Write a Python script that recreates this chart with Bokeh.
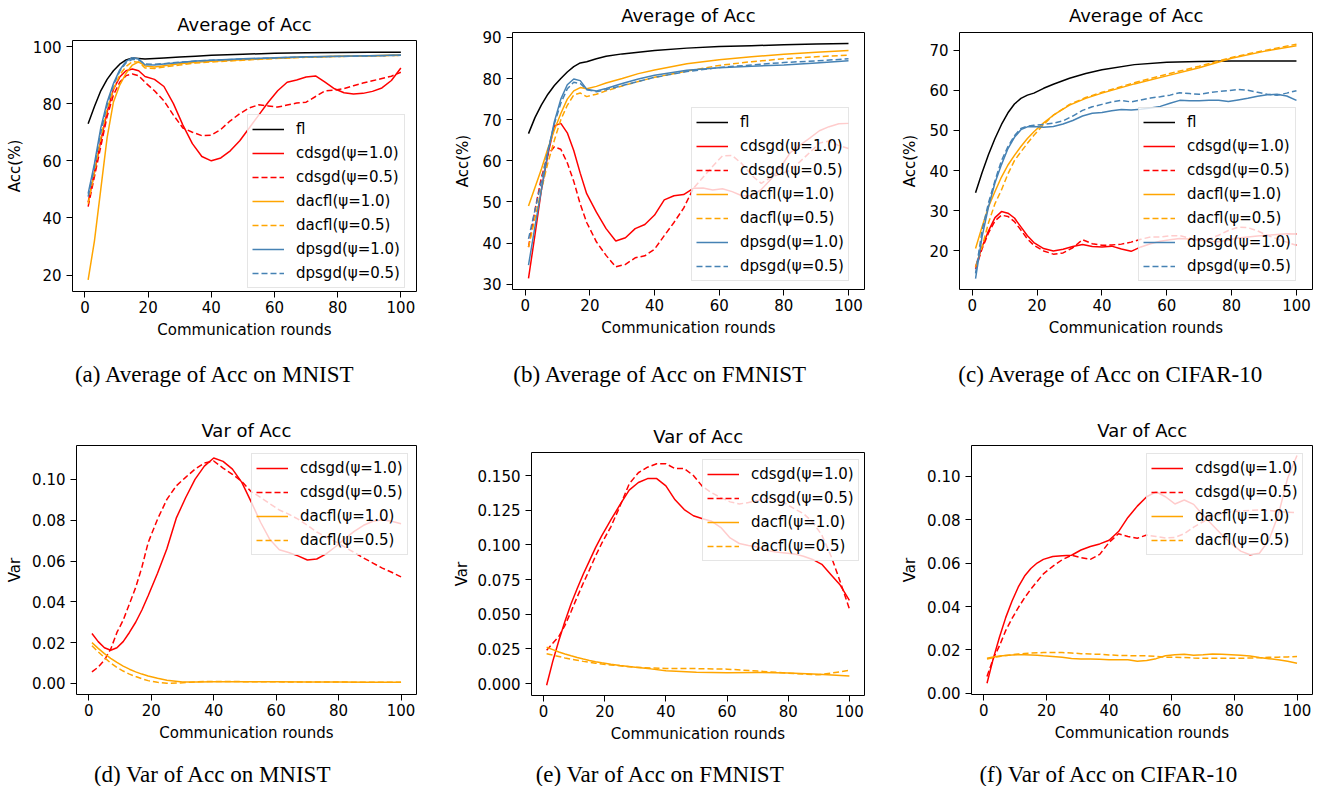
from bokeh.plotting import figure
from bokeh.layouts import row, column
from bokeh.models import FixedTicker, PrintfTickFormatter, Range1d
from bokeh.embed import file_html
from bokeh.resources import INLINE
from bokeh.core.properties import value

# ---------------- data ----------------
X_FINE = [1, 3, 5, 7, 9, 11, 13, 15, 17, 19, 22, 25, 28, 31, 34, 37, 40, 43, 46, 49,
          52, 55, 58, 61, 64, 67, 70, 73, 76, 79, 82, 85, 88, 91, 94, 97, 100]
X_COARSE = [1, 3, 5, 7, 9, 11, 13, 15, 17, 19, 22, 25, 30, 35, 40, 50, 60, 70, 80, 90, 100]
X_TICKS = [0, 20, 40, 60, 80, 100]

# (a) MNIST average accuracy
A_FL = [73, 79, 84.5, 88.5, 91.5, 93.8, 95.3, 96.0, 95.8, 95.6, 95.8, 96.0, 96.3, 96.6, 96.9,
        97.3, 97.6, 97.8, 97.9, 98.0, 98.0]
A_CDSGD_10 = [45.5, 56, 67, 77, 85, 89.3, 91.5, 92.1, 91.5, 89.5, 88.5, 86, 80, 72.5, 66, 61.5,
              60, 61, 63.5, 67, 71.5, 76, 80.5, 84.5, 87.5, 88.3, 89.3, 89.7, 87.5, 85.2, 83.8,
              83.4, 83.6, 84.3, 85.5, 88.1, 92.5]
A_CDSGD_05 = [44, 54.5, 65, 75.5, 83, 87.5, 89.8, 90.4, 89.8, 87.5, 84.5, 81, 76, 71.5, 70, 68.8,
              69, 71, 74, 76.5, 78.5, 79.6, 79.2, 78.8, 79.5, 80.2, 80.5, 82.5, 84.5, 84.7, 85.3,
              86.3, 87.2, 88, 88.8, 89.6, 91]
A_DACFL_10 = [18.3, 32, 50, 68, 80.5, 86.5, 90.6, 93.5, 94.6, 93.2, 92.8, 93.3, 94.0, 94.5, 94.8,
              95.4, 95.9, 96.3, 96.6, 96.8, 97.0]
A_DACFL_05 = [45, 56, 68, 78, 85, 90, 93, 94.7, 94.5, 92.5, 92.3, 92.8, 93.5, 94.2, 94.6, 95.2,
              95.8, 96.2, 96.5, 96.7, 96.9]
A_DPSGD_10 = [48.5, 59, 71.5, 80.5, 87, 91.8, 94.8, 96.1, 95.6, 93.6, 93.5, 93.9, 94.4, 94.9,
              95.2, 95.7, 96.1, 96.4, 96.6, 96.8, 97.0]
A_DPSGD_05 = [47.5, 58, 70, 79.5, 86.5, 91.3, 94.3, 95.5, 95.3, 93.9, 93.8, 94.0, 94.5, 94.9,
              95.2, 95.6, 96.0, 96.3, 96.5, 96.7, 96.9]

# (b) FMNIST average accuracy
B_FL = [66.6, 70.5, 73.6, 76.2, 78.3, 80.0, 81.6, 82.9, 83.8, 84.1, 84.8, 85.4, 86.0, 86.4, 86.8,
        87.4, 87.8, 88.0, 88.2, 88.4, 88.5]
B_CDSGD_10 = [31.4, 42, 53, 61.5, 68.5, 69.1, 66.8, 62.5, 57, 52, 47.5, 43.5, 40.5, 41.3, 43.5,
              44.5, 46.8, 50.5, 51.5, 51.8, 53.3, 53.4, 52.9, 53.2, 52.5, 51.5, 51.5, 53, 55.5,
              58.5, 62, 63.8, 65.5, 67.3, 68.3, 69, 69.1]
B_CDSGD_05 = [39, 48, 56, 61.5, 63.4, 62.8, 59.5, 55, 49.5, 45, 40.3, 37, 34.2, 34.8, 36.4, 36.9,
              38.5, 41.8, 45, 48.5, 53.3, 56, 58.7, 61.2, 61.3, 59.3, 56.5, 54.5, 56, 56.8, 57.7,
              59.8, 62, 64.3, 64.8, 63.7, 63]
B_DACFL_10 = [49, 53.5, 58, 63, 67.5, 71.5, 75, 77, 77.8, 77.5, 78.1, 78.9, 80.0, 81.2, 82.1,
              83.6, 84.6, 85.3, 85.9, 86.4, 86.8]
B_DACFL_05 = [39, 46, 53, 59.5, 65, 70, 73.5, 76, 76.5, 75.6, 76.2, 77.0, 78.2, 79.3, 80.3, 81.8,
              83.2, 84.1, 84.8, 85.3, 85.7]
B_DPSGD_10 = [34.6, 44, 53, 62, 69.5, 75, 78.5, 79.9, 79.5, 77.4, 77.0, 77.6, 78.8, 79.9, 80.8,
              82.0, 82.6, 83.0, 83.3, 83.8, 84.3]
B_DPSGD_05 = [41, 48, 55, 62.5, 69, 74, 77.5, 79.1, 78.8, 77.3, 76.8, 77.3, 78.3, 79.3, 80.3,
              81.7, 82.7, 83.3, 83.9, 84.3, 84.8]

# (c) CIFAR-10 average accuracy
C_FL = [34.5, 39.5, 44, 48, 51.5, 54.4, 56.6, 58, 58.8, 59.3, 60.5, 61.5, 63.0, 64.2, 65.1, 66.4,
        67.0, 67.2, 67.3, 67.3, 67.3]
C_CDSGD_10 = [16.0, 21.0, 25.0, 28.3, 29.8, 29.4, 28.2, 26.0, 23.8, 22.1, 20.6, 20.0, 20.4, 21.1,
              21.6, 21.1, 21.0, 21.2, 20.5, 19.9, 21.0, 21.8, 22.4, 22.8, 23.1, 23.0, 22.7, 22.4,
              22.3, 22.7, 23.2, 23.5, 23.7, 23.9, 24.1, 24.3, 24.2]
C_CDSGD_05 = [15.5, 20.5, 24.5, 27.5, 28.9, 28.6, 27.3, 25.2, 23.0, 21.4, 20.0, 19.2, 19.5, 20.8,
              22.8, 21.8, 21.4, 21.5, 21.7, 22.2, 22.9, 23.5, 23.5, 23.8, 23.8, 23.2, 22.6, 23.0,
              23.9, 25.1, 25.9, 25.8, 25.0, 23.9, 23.0, 22.2, 21.4]
C_DACFL_10 = [20.6, 26.0, 31.0, 34.8, 38.4, 41.4, 43.8, 46, 48, 49.7, 51.9, 53.8, 56.3, 58.0,
              59.3, 61.6, 63.6, 65.6, 68.0, 69.7, 71.1]
C_DACFL_05 = [16, 21, 27, 31.8, 35.2, 39.2, 42.5, 44.7, 46.8, 48.8, 51.5, 53.8, 56.5, 58.2, 59.5,
              61.9, 64.0, 66.0, 68.2, 69.9, 71.5]
C_DPSGD_10 = [13.1, 23.5, 31, 37, 41.5, 45.5, 48.3, 50.2, 50.9, 51.0, 50.8, 51.0, 51.6, 52.5,
              53.6, 54.3, 54.5, 54.9, 55.2, 55.1, 55.3, 55.6, 56.0, 56.8, 57.5, 57.4, 57.4, 57.5,
              57.5, 57.2, 57.6, 58.0, 58.5, 58.9, 59.0, 58.6, 57.5]
C_DPSGD_05 = [14.4, 25, 32, 37.5, 42.5, 46, 48.7, 50.5, 51.1, 51.3, 51.5, 51.8, 52.4, 53.6, 55.0,
              55.9, 56.5, 57.1, 57.5, 57.1, 57.6, 58.1, 58.4, 58.8, 59.4, 59.2, 59.0, 59.4, 59.7,
              59.9, 60.2, 60.0, 59.5, 59.0, 58.8, 59.3, 59.9]

# (d) MNIST variance
D_CDSGD_10 = [0.0245, 0.0205, 0.0175, 0.0163, 0.0175, 0.0205, 0.0250, 0.0300, 0.0360, 0.0430,
              0.0540, 0.0660, 0.0810, 0.0910, 0.1000, 0.1065, 0.1105, 0.1088, 0.1050, 0.0985,
              0.0890, 0.0790, 0.0705, 0.0655, 0.0642, 0.0625, 0.0605, 0.0610, 0.0635, 0.0670,
              0.0710, 0.0745, 0.0775, 0.0795, 0.0802, 0.0795, 0.0783]
D_CDSGD_05 = [0.0057, 0.0080, 0.0115, 0.0168, 0.0250, 0.0310, 0.0390, 0.0470, 0.0570, 0.0690,
              0.0805, 0.0902, 0.0968, 0.1010, 0.1050, 0.1080, 0.1090, 0.1055, 0.1025, 0.0990,
              0.0940, 0.0912, 0.0880, 0.0850, 0.0830, 0.0805, 0.0775, 0.0742, 0.0718, 0.0695,
              0.0668, 0.0642, 0.0615, 0.0590, 0.0565, 0.0545, 0.0522]
D_DACFL_10 = [0.0200, 0.0172, 0.0146, 0.0123, 0.0103, 0.0085, 0.0070, 0.0057, 0.0046, 0.0037,
              0.0026, 0.0016, 0.0007, 0.0007, 0.0009, 0.0008, 0.0008, 0.0007, 0.0007, 0.0006,
              0.0006]
D_DACFL_05 = [0.0185, 0.0155, 0.0127, 0.0100, 0.0079, 0.0061, 0.0046, 0.0034, 0.0023, 0.0014,
              0.0006, 0.0001, 0.0003, 0.0009, 0.0010, 0.0009, 0.0008, 0.0007, 0.0007, 0.0006,
              0.0006]

# (e) FMNIST variance
E_CDSGD_10 = [-0.0012, 0.0160, 0.0310, 0.0450, 0.0575, 0.0685, 0.0790, 0.0885, 0.0980, 0.1065,
              0.1180, 0.1290, 0.1395, 0.1450, 0.1478, 0.1478, 0.1425, 0.1325, 0.1255, 0.1210,
              0.1188, 0.1170, 0.1125, 0.1050, 0.1010, 0.0995, 0.0985, 0.0960, 0.0948, 0.0942,
              0.0935, 0.0918, 0.0895, 0.0860, 0.0785, 0.0710, 0.0600]
E_CDSGD_05 = [0.0240, 0.0290, 0.0340, 0.0420, 0.0520, 0.0625, 0.0725, 0.0820, 0.0920, 0.1010,
              0.1130, 0.1280, 0.1440, 0.1520, 0.1560, 0.1585, 0.1585, 0.1550, 0.1550, 0.1500,
              0.1420, 0.1375, 0.1340, 0.1310, 0.1295, 0.1305, 0.1320, 0.1335, 0.1330, 0.1300,
              0.1260, 0.1225, 0.1165, 0.1070, 0.0920, 0.0735, 0.0540]
E_DACFL_10 = [0.0262, 0.0245, 0.0228, 0.0213, 0.0200, 0.0188, 0.0177, 0.0167, 0.0158, 0.0150,
              0.0140, 0.0131, 0.0118, 0.0106, 0.0092, 0.0082, 0.0078, 0.0080, 0.0077, 0.0068,
              0.0055]
E_DACFL_05 = [0.0215, 0.0205, 0.0195, 0.0185, 0.0176, 0.0168, 0.0160, 0.0153, 0.0147, 0.0141,
              0.0134, 0.0128, 0.0118, 0.0112, 0.0109, 0.0108, 0.0104, 0.0090, 0.0075, 0.0063,
              0.0095]

# (f) CIFAR-10 variance
F_CDSGD_10 = [0.0047, 0.0160, 0.0260, 0.0350, 0.0425, 0.0490, 0.0540, 0.0575, 0.0600, 0.0617,
              0.0630, 0.0634, 0.0636, 0.0660, 0.0676, 0.0688, 0.0705, 0.0745, 0.0810, 0.0862,
              0.0905, 0.0928, 0.0905, 0.0872, 0.0890, 0.0870, 0.0820, 0.0775, 0.0730, 0.0690,
              0.0655, 0.0638, 0.0645, 0.0705, 0.0820, 0.0990, 0.1095]
F_CDSGD_05 = [0.0078, 0.0160, 0.0220, 0.0290, 0.0345, 0.0395, 0.0440, 0.0480, 0.0515, 0.0550,
              0.0585, 0.0615, 0.0636, 0.0625, 0.0617, 0.0640, 0.0695, 0.0735, 0.0722, 0.0714,
              0.0729, 0.0722, 0.0715, 0.0718, 0.0735, 0.0765, 0.0790, 0.0815, 0.0828, 0.0836,
              0.0840, 0.0842, 0.0844, 0.0842, 0.0837, 0.0834, 0.0832]
F_DACFL_10 = [0.0162, 0.0168, 0.0172, 0.0175, 0.0177, 0.0178, 0.0178, 0.0177, 0.0176, 0.0173,
              0.0170, 0.0166, 0.0161, 0.0158, 0.0158, 0.0157, 0.0155, 0.0155, 0.0155, 0.0148,
              0.0151, 0.0160, 0.0173, 0.0178, 0.0180, 0.0176, 0.0178, 0.0181, 0.0180, 0.0178,
              0.0176, 0.0172, 0.0165, 0.0160, 0.0155, 0.0148, 0.0139]
F_DACFL_05 = [0.0158, 0.0165, 0.0170, 0.0175, 0.0178, 0.0181, 0.0184, 0.0186, 0.0187, 0.0188,
              0.0188, 0.0188, 0.0186, 0.0183, 0.0181, 0.0180, 0.0177, 0.0175, 0.0174, 0.0173,
              0.0173, 0.0170, 0.0167, 0.0166, 0.0165, 0.0163, 0.0162, 0.0162, 0.0162, 0.0162,
              0.0162, 0.0163, 0.0164, 0.0166, 0.0167, 0.0168, 0.0170]

LABELS = ["fl", "cdsgd(ψ=1.0)", "cdsgd(ψ=0.5)", "dacfl(ψ=1.0)", "dacfl(ψ=0.5)",
          "dpsgd(ψ=1.0)", "dpsgd(ψ=0.5)"]
TITLE_AVG = "Average of Acc"
TITLE_VAR = "Var of Acc"
CAPTIONS = ["(a) Average of Acc on MNIST", "(b) Average of Acc on FMNIST",
            "(c) Average of Acc on CIFAR-10", "(d) Var of Acc on MNIST",
            "(e) Var of Acc on FMNIST", "(f) Var of Acc on CIFAR-10"]

# ---------------- styling ----------------
FONT = "DejaVu Sans"
CAP_FONT = "Liberation Serif"
CAP_SIZE = "23px"
TITLE_SIZE = "18px"
BLACK, RED, ORANGE, BLUE = "#000000", "#ff0000", "#ffa500", "#4682b4"
DASH = "6 3"


def text_fig(w, h, tx, ty, text, size, font):
    """A blank strip whose frame is its whole area (y grows downward), holding one text."""
    p = figure(width=w, height=h, x_range=Range1d(0, w), y_range=Range1d(h, 0),
               output_backend="svg", toolbar_location=None, tools="", min_border=0,
               x_axis_location=None, y_axis_location=None, frame_align=False,
               background_fill_color="white", border_fill_color="white")
    p.outline_line_color = None
    p.xgrid.visible = False
    p.ygrid.visible = False
    p.text(x=[tx], y=[ty], text=[text], text_align="center", text_baseline="middle",
           text_font=value(font), text_font_size=value(size), text_color="black")
    return p


def make_panel(w, h, left, right, top, bottom, y_range, y_ticks, y_fmt, y_label, series,
               legend_xy, axis_label_standoff=5):
    p = figure(width=w, height=h, x_range=Range1d(-3.95, 104.95), y_range=Range1d(*y_range),
               output_backend="svg", toolbar_location=None, tools="",
               min_border_left=left, min_border_right=right,
               min_border_top=top, min_border_bottom=bottom, frame_align=False,
               background_fill_color="white", border_fill_color="white")
    p.xgrid.visible = False
    p.ygrid.visible = False
    p.outline_line_color = "black"
    p.outline_line_width = 1
    p.outline_line_alpha = 1

    for xs, ys, color, dash, label in series:
        p.line(xs, ys, line_color=color, line_width=1.5, line_dash=dash, legend_label=label)

    p.xaxis.ticker = FixedTicker(ticks=X_TICKS)
    p.yaxis.ticker = FixedTicker(ticks=y_ticks)
    if y_fmt:
        p.yaxis.formatter = PrintfTickFormatter(format=y_fmt)
    p.xaxis.axis_label = "Communication rounds"
    p.yaxis.axis_label = y_label
    for ax in (p.xaxis[0], p.yaxis[0]):
        ax.axis_line_color = None
        ax.major_tick_line_color = "black"
        ax.major_tick_out = 6
        ax.major_tick_in = 0
        ax.minor_tick_line_color = None
        ax.major_label_text_font = FONT
        ax.major_label_text_font_size = "15px"
        ax.major_label_text_color = "black"
        ax.axis_label_text_font = FONT
        ax.axis_label_text_font_size = "15px"
        ax.axis_label_text_font_style = "normal"
        ax.axis_label_text_color = "black"
    p.xaxis.major_label_standoff = 3
    p.xaxis.axis_label_standoff = 5
    p.yaxis.major_label_standoff = 5
    p.yaxis.axis_label_standoff = axis_label_standoff

    lg = p.legend[0]
    lg.location = legend_xy
    lg.label_text_font = FONT
    lg.label_text_font_size = "15px"
    lg.label_text_color = "black"
    lg.glyph_width = 32
    lg.glyph_height = 20
    lg.label_height = 20
    lg.label_standoff = 12
    lg.spacing = 4
    lg.padding = 4
    lg.margin = 0
    lg.border_line_color = "#cccccc"
    lg.border_line_width = 1
    lg.background_fill_color = "white"
    lg.background_fill_alpha = 0.8
    return p


# ---- row 1 (y 0..400) ----
ta = text_fig(440, 36, 244, 24, TITLE_AVG, TITLE_SIZE, FONT)
pa = make_panel(440, 310, 72, 24, 4, 55, (14.27, 102.1), [20, 40, 60, 80, 100], None, "Acc(%)",
                [(X_COARSE, A_FL, BLACK, "solid", LABELS[0]),
                 (X_FINE, A_CDSGD_10, RED, "solid", LABELS[1]),
                 (X_FINE, A_CDSGD_05, RED, DASH, LABELS[2]),
                 (X_COARSE, A_DACFL_10, ORANGE, "solid", LABELS[3]),
                 (X_COARSE, A_DACFL_05, ORANGE, DASH, LABELS[4]),
                 (X_COARSE, A_DPSGD_10, BLUE, "solid", LABELS[5]),
                 (X_COARSE, A_DPSGD_05, BLUE, DASH, LABELS[6])],
                (175, 3), axis_label_standoff=6)
ca = text_fig(440, 54, 215, 27.6, CAPTIONS[0], CAP_SIZE, CAP_FONT)

tb = text_fig(440, 27, 247.9, 15, TITLE_AVG, TITLE_SIZE, FONT)
pb = make_panel(440, 317, 72, 16, 5, 55, (28.7, 91.2), [30, 40, 50, 60, 70, 80, 90], None,
                "Acc(%)",
                [(X_COARSE, B_FL, BLACK, "solid", LABELS[0]),
                 (X_FINE, B_CDSGD_10, RED, "solid", LABELS[1]),
                 (X_FINE, B_CDSGD_05, RED, DASH, LABELS[2]),
                 (X_COARSE, B_DACFL_10, ORANGE, "solid", LABELS[3]),
                 (X_COARSE, B_DACFL_05, ORANGE, DASH, LABELS[4]),
                 (X_COARSE, B_DPSGD_10, BLUE, "solid", LABELS[5]),
                 (X_COARSE, B_DPSGD_05, BLUE, DASH, LABELS[6])],
                (179, 8), axis_label_standoff=7)
cb = text_fig(440, 56, 220.5, 29.6, CAPTIONS[1], CAP_SIZE, CAP_FONT)

tc = text_fig(436, 27, 255.7, 15, TITLE_AVG, TITLE_SIZE, FONT)
pc = make_panel(436, 317, 79, 4, 5, 55, (10.4, 74.4), [20, 30, 40, 50, 60, 70], None, "Acc(%)",
                [(X_COARSE, C_FL, BLACK, "solid", LABELS[0]),
                 (X_FINE, C_CDSGD_10, RED, "solid", LABELS[1]),
                 (X_FINE, C_CDSGD_05, RED, DASH, LABELS[2]),
                 (X_COARSE, C_DACFL_10, ORANGE, "solid", LABELS[3]),
                 (X_COARSE, C_DACFL_05, ORANGE, DASH, LABELS[4]),
                 (X_FINE, C_DPSGD_10, BLUE, "solid", LABELS[5]),
                 (X_FINE, C_DPSGD_05, BLUE, DASH, LABELS[6])],
                (179, 8), axis_label_standoff=7)
cc = text_fig(436, 56, 231, 29.6, CAPTIONS[2], CAP_SIZE, CAP_FONT)

# ---- row 2 (y 400..786) ----
td = text_fig(440, 42, 245.9, 29.7, TITLE_VAR, TITLE_SIZE, FONT)
pd_ = make_panel(440, 307, 76, 24, 3, 55, (-0.0054, 0.1166), [0, 0.02, 0.04, 0.06, 0.08, 0.10],
                 "%.2f", "Var",
                 [(X_FINE, D_CDSGD_10, RED, "solid", LABELS[1]),
                  (X_FINE, D_CDSGD_05, RED, DASH, LABELS[2]),
                  (X_COARSE, D_DACFL_10, ORANGE, "solid", LABELS[3]),
                  (X_COARSE, D_DACFL_05, ORANGE, DASH, LABELS[4])],
                 (175, 139), axis_label_standoff=5)
cd = text_fig(440, 37, 212.5, 24.6, CAPTIONS[3], CAP_SIZE, CAP_FONT)

te = text_fig(440, 46, 257.7, 35.7, TITLE_VAR, TITLE_SIZE, FONT)
pe = make_panel(440, 304, 91, 16, 6, 55, (-0.0086, 0.1666),
                [0, 0.025, 0.05, 0.075, 0.1, 0.125, 0.15], "%.3f", "Var",
                [(X_FINE, E_CDSGD_10, RED, "solid", LABELS[1]),
                 (X_FINE, E_CDSGD_05, RED, DASH, LABELS[2]),
                 (X_COARSE, E_DACFL_10, ORANGE, "solid", LABELS[3]),
                 (X_COARSE, E_DACFL_05, ORANGE, DASH, LABELS[4])],
                (171, 134), axis_label_standoff=4)
ce = text_fig(440, 36, 220, 23.6, CAPTIONS[4], CAP_SIZE, CAP_FONT)

tf = text_fig(436, 42, 261.7, 29.7, TITLE_VAR, TITLE_SIZE, FONT)
pf = make_panel(436, 307, 91, 4, 3, 55, (-0.0005, 0.1141), [0, 0.02, 0.04, 0.06, 0.08, 0.10],
                "%.2f", "Var",
                [(X_FINE, F_CDSGD_10, RED, "solid", LABELS[1]),
                 (X_FINE, F_CDSGD_05, RED, DASH, LABELS[2]),
                 (X_FINE, F_DACFL_10, ORANGE, "solid", LABELS[3]),
                 (X_FINE, F_DACFL_05, ORANGE, DASH, LABELS[4])],
                (175, 139), axis_label_standoff=5)
cf = text_fig(436, 37, 228.7, 24.6, CAPTIONS[5], CAP_SIZE, CAP_FONT)

layout = column(
    row(column(ta, pa, ca), column(tb, pb, cb), column(tc, pc, cc)),
    row(column(td, pd_, cd), column(te, pe, ce), column(tf, pf, cf)),
)

open("out.html", "w").write(file_html(layout, INLINE))
